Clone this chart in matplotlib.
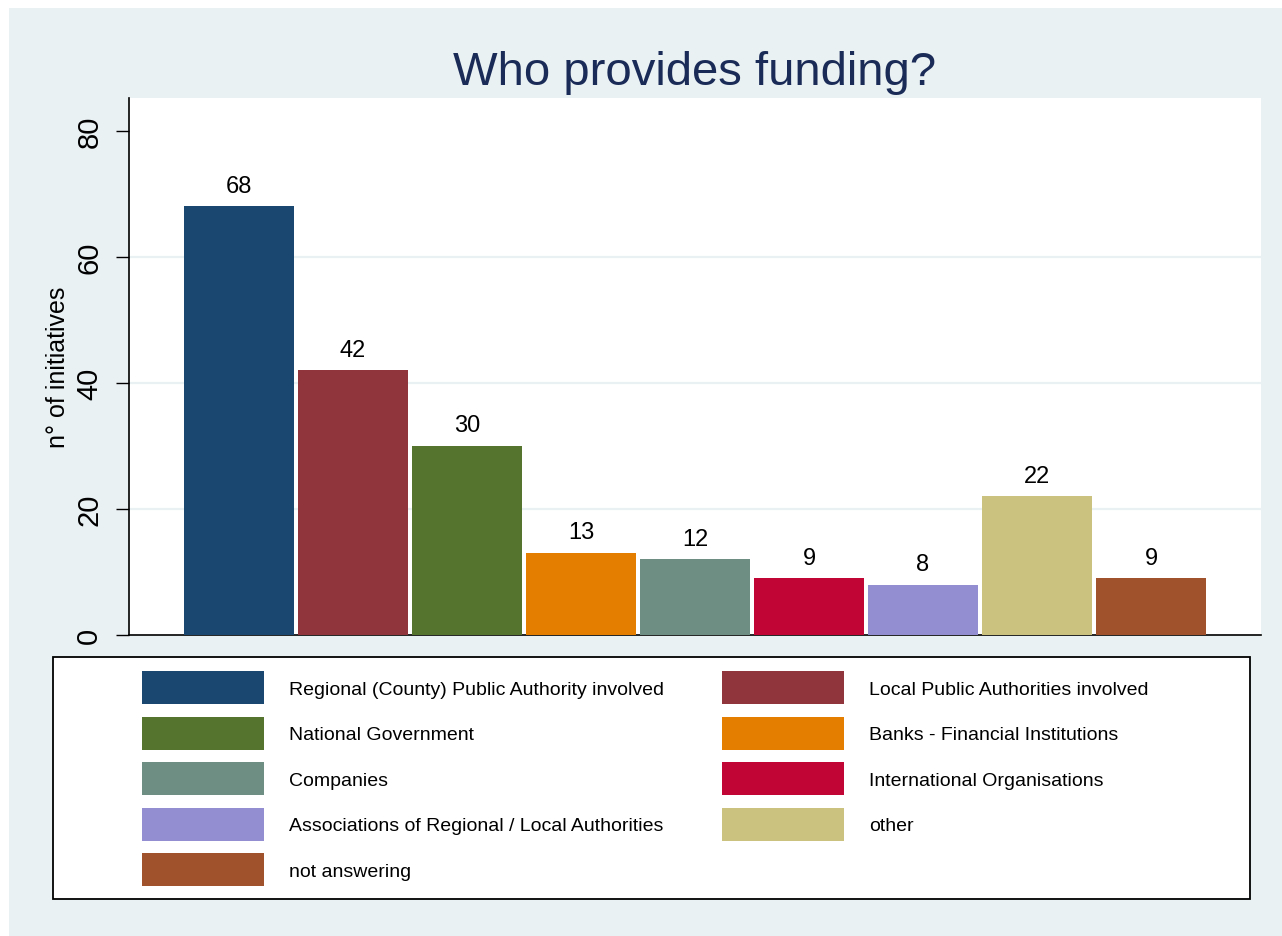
import matplotlib
matplotlib.use("Agg")
import matplotlib.pyplot as plt
from matplotlib.patches import Patch, Rectangle

plt.rcParams['font.family'] = ['Liberation Sans', 'DejaVu Sans']

title = "Who provides funding?"
ylabel = "n° of initiatives"
categories = [
    "Regional (County) Public Authority involved",
    "Local Public Authorities involved",
    "National Government",
    "Banks - Financial Institutions",
    "Companies",
    "International Organisations",
    "Associations of Regional / Local Authorities",
    "other",
    "not answering",
]
values = [68, 42, 30, 13, 12, 9, 8, 22, 9]
colors = ["#1a476f", "#90353b", "#55752f", "#e37e00", "#6e8e84",
          "#c10534", "#938dd2", "#cac27e", "#a0522d"]
yticks = [0, 20, 40, 60, 80]
grid_vals = [20, 40, 60]

W, H = 1282, 937
fig = plt.figure(figsize=(W / 100, H / 100), dpi=100)
fig.patch.set_facecolor("white")
bg = "#eaf1f3"
fig.patches.append(Rectangle((9 / W, 0), 1 - 9 / W, 1 - 9 / H, transform=fig.transFigure,
                             facecolor=bg, edgecolor="none", zorder=-5))

ax = fig.add_axes([129 / W, 1 - 636 / H, (1261 - 129) / W, (636 - 99) / H])
ax.set_zorder(2)
ax.set_facecolor("white")
x = list(range(len(values)))
bars = ax.bar(x, values, width=0.965, color=colors, linewidth=0, zorder=3)
ax.bar_label(bars, labels=[str(v) for v in values], padding=7, fontsize=17, color="black")

for g in grid_vals:
    ax.axhline(g, color=bg, linewidth=1.6, zorder=1)

ax.set_xlim(-0.965, 8.965)
ax.set_ylim(0, 85.2)
ax.set_yticks(yticks)
ax.set_yticklabels([str(t) for t in yticks], rotation=90, va="center", fontsize=21)
ax.tick_params(axis="y", length=9.5, width=1, pad=9)
ax.set_xticks([])
for s in ["top", "right"]:
    ax.spines[s].set_visible(False)
ax.spines["left"].set_linewidth(1.2)
ax.spines["bottom"].set_linewidth(1.2)
ax.set_ylabel(ylabel, fontsize=18)
ax.yaxis.set_label_coords((70 - 129) / 1132, 0.5)

fig.text(695 / W, 1 - 85 / H, title, ha="center", va="baseline", fontsize=34, color="#1a2b57")

# legend frame
fig.patches.append(Rectangle((53 / W, 1 - 900 / H), (1250 - 53) / W, (900 - 658) / H,
                             transform=fig.transFigure, facecolor="white",
                             edgecolor="black", linewidth=1.3, zorder=1))
handles = [Patch(facecolor=c, edgecolor="none") for c in colors]
order = [0, 2, 4, 6, 8, 1, 3, 5, 7]
fs = 14
leg = fig.legend([handles[i] for i in order], [categories[i] for i in order],
                 ncol=2, frameon=False, fontsize=fs,
                 loc="upper left", bbox_to_anchor=(142 / W, 1 - 672 / H),
                 borderpad=0, borderaxespad=0,
                 handlelength=122 / 19.44, handleheight=2.234,
                 handletextpad=25 / 19.44, labelspacing=0.643,
                 columnspacing=3.0)
leg.set_zorder(5)

fig.savefig("out.png", dpi=100, facecolor=fig.get_facecolor())
